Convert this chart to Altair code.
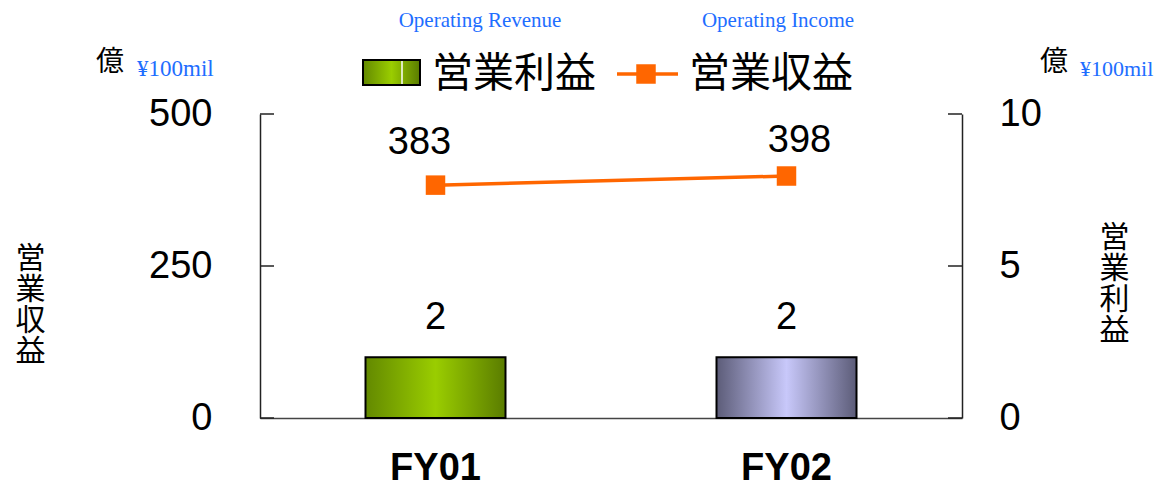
import altair as alt
import pandas as pd

categories = ["FY01", "FY02"]
income = [2, 2]          # 営業利益 (bars, right axis)
revenue = [383, 398]     # 営業収益 (line, left axis)
left_ticks = [0, 250, 500]
right_ticks = [0, 5, 10]

df = pd.DataFrame({"cat": categories, "income": income, "revenue": revenue})
lt = pd.DataFrame({"revenue": left_ticks})
rt = pd.DataFrame({"income": right_ticks})
one = pd.DataFrame({"k": [0]})

NUM_FONT = "Liberation Sans"
CJK_FONT = "Noto Sans CJK JP"
SERIF = "Liberation Serif"
BLUE = "#1e6eff"
ORANGE = "#ff6600"


def grad(edge_l, mid, edge_r):
    return alt.Gradient(
        gradient="linear", x1=0, x2=1, y1=0, y2=0,
        stops=[alt.GradientStop(offset=0, color=edge_l),
               alt.GradientStop(offset=0.5, color=mid),
               alt.GradientStop(offset=1, color=edge_r)])


green = grad("#638900", "#9acd00", "#5a7c00")
lavender = grad("#5c5c78", "#c8c8fa", "#5c5c78")

x_enc = alt.X("cat:N", scale=alt.Scale(domain=categories, paddingInner=0, paddingOuter=0),
              axis=alt.Axis(title=None, labelAngle=0, labelFont=NUM_FONT, labelFontSize=38,
                            labelFontWeight="bold", labelColor="black", labelPadding=50,
                            labelBaseline="middle", tickSize=0, domainColor="#444",
                            domainWidth=1.5))

left_axis = alt.Axis(orient="left", values=left_ticks, tickSize=0, labelPadding=48,
                     labelFont=NUM_FONT, labelFontSize=38, labelColor="black",
                     labelFlush=False, domainColor="#222", domainWidth=1.5, grid=False,
                     title=["営", "業", "収", "益"], titleAngle=0, titleFont=CJK_FONT,
                     titleFontSize=30, titleLineHeight=31, titleFontWeight="normal",
                     titleColor="black", titleX=-230, titleY=144, titleAlign="center",
                     titleBaseline="middle")
right_axis = alt.Axis(orient="right", values=right_ticks, tickSize=0, labelPadding=37,
                      labelFont=NUM_FONT, labelFontSize=38, labelColor="black",
                      labelFlush=False, domainColor="#222", domainWidth=1.5, grid=False,
                      title=["営", "業", "利", "益"], titleAngle=0, titleFont=CJK_FONT,
                      titleFontSize=30, titleLineHeight=31, titleFontWeight="normal",
                      titleColor="black", titleX=152, titleY=123, titleAlign="center",
                      titleBaseline="middle")

line_y = alt.Y("revenue:Q", scale=alt.Scale(domain=[0, 500], nice=False), axis=left_axis)
bar_y = alt.Y("income:Q", scale=alt.Scale(domain=[0, 10], nice=False), axis=right_axis)

# line layer (left axis)
l_ticks = alt.Chart(lt).mark_rule(color="#222", strokeWidth=1.5).encode(
    y=line_y, x=alt.value(0), x2=alt.value(14))
line = alt.Chart(df).mark_line(color=ORANGE, strokeWidth=3.5).encode(x=x_enc, y=line_y)
pts = alt.Chart(df).mark_point(shape="square", filled=True, size=380, color=ORANGE,
                               opacity=1).encode(x=x_enc, y=line_y)
l_text1 = alt.Chart(df).transform_filter(alt.datum.cat == "FY01").mark_text(
    font=NUM_FONT, fontSize=38, dy=-42, dx=-16, color="black").encode(
    x=x_enc, y=line_y, text="revenue:Q")
l_text2 = alt.Chart(df).transform_filter(alt.datum.cat == "FY02").mark_text(
    font=NUM_FONT, fontSize=38, dy=-35, dx=13, color="black").encode(
    x=x_enc, y=line_y, text="revenue:Q")
line_layer = alt.layer(l_ticks, line, pts, l_text1, l_text2)

# bar layer (right axis)
bar1 = alt.Chart(df).transform_filter(alt.datum.cat == "FY01").mark_bar(
    size=140, fill=green, stroke="black", strokeWidth=2).encode(x=x_enc, y=bar_y)
bar2 = alt.Chart(df).transform_filter(alt.datum.cat == "FY02").mark_bar(
    size=140, fill=lavender, stroke="black", strokeWidth=2).encode(x=x_enc, y=bar_y)
r_ticks = alt.Chart(rt).mark_rule(color="#222", strokeWidth=1.5).encode(
    y=bar_y, x=alt.value(688), x2=alt.value(702))
b_text = alt.Chart(df).mark_text(font=NUM_FONT, fontSize=38, dy=-39, color="black").encode(
    x=x_enc, y=bar_y, text="income:Q")
bar_layer = alt.layer(bar1, bar2, r_ticks, b_text)


# decorations: legend and unit labels
def txt(s, x, y, **kw):
    return alt.Chart(one).mark_text(text=s, **kw).encode(x=alt.value(x), y=alt.value(y))


deco = [
    alt.Chart(one).mark_rect(fill=green, stroke="black", strokeWidth=2).encode(
        x=alt.value(103), x2=alt.value(160), y=alt.value(-54), y2=alt.value(-29)),
    alt.Chart(one).mark_rule(color="white", strokeWidth=1.5).encode(
        x=alt.value(142), y=alt.value(-53), y2=alt.value(-30)),
    txt("営業利益", 172, -39, font=CJK_FONT, fontSize=41, align="left", baseline="middle",
        color="black"),
    alt.Chart(one).mark_rule(color=ORANGE, strokeWidth=3.5).encode(
        x=alt.value(357), x2=alt.value(418), y=alt.value(-40)),
    alt.Chart(one).mark_point(shape="square", filled=True, size=380, color=ORANGE,
                              opacity=1).encode(x=alt.value(386), y=alt.value(-40)),
    txt("営業収益", 429, -39, font=CJK_FONT, fontSize=41, align="left", baseline="middle",
        color="black"),
    txt("Operating Revenue", 220, -93, font=SERIF, fontSize=21, align="center",
        baseline="middle", color=BLUE),
    txt("Operating Income", 518, -93, font=SERIF, fontSize=21, align="center",
        baseline="middle", color=BLUE),
    txt("億", -150, -51, font=CJK_FONT, fontSize=28, align="center", baseline="middle",
        color="black"),
    txt("¥100mil", -123, -38, font=SERIF, fontSize=23, align="left",
        baseline="alphabetic", color=BLUE),
    txt("億", 794, -51, font=CJK_FONT, fontSize=28, align="center", baseline="middle",
        color="black"),
    txt("¥100mil", 820, -38, font=SERIF, fontSize=22, align="left",
        baseline="alphabetic", color=BLUE),
]

chart = alt.layer(bar_layer, line_layer, *deco).resolve_scale(y="independent").properties(
    width=702, height=304,
    background="white",
    autosize=alt.AutoSizeParams(type="none"),
    padding={"left": 252, "top": 106, "right": 196, "bottom": 71},
).configure_view(stroke=None)

chart.save("out.html", embed_options={"renderer": "svg", "actions": False})
